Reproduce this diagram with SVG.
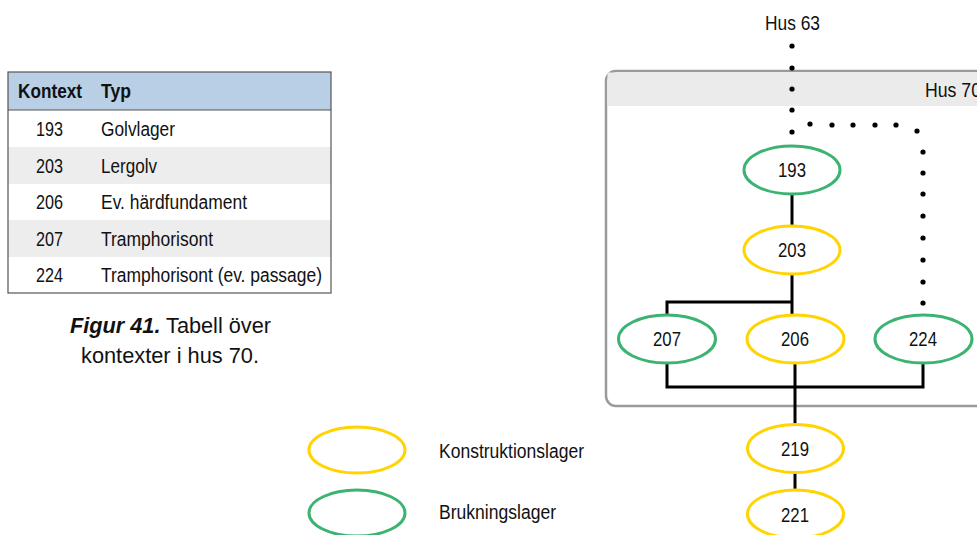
<svg xmlns="http://www.w3.org/2000/svg" width="977" height="535" viewBox="0 0 977 535">
<style>
text{font-family:"Liberation Sans",Arial,sans-serif;fill:#111;}
.t{font-size:20px;}
.b{font-weight:bold;}
.n{font-size:21px;text-anchor:middle;}
.y{fill:none;stroke:#ffd400;stroke-width:3;}
.g{fill:none;stroke:#3cb371;stroke-width:3;}
.c{fill:none;stroke:#000;stroke-width:3;}
.d{fill:#000;}
</style>
<g id="table">
<rect x="8" y="72" width="323" height="38" fill="#b8cfe6"/>
<rect x="8" y="147" width="323" height="37" fill="#ededed"/>
<rect x="8" y="220" width="323" height="37" fill="#ededed"/>
<rect x="8" y="72" width="323" height="221" fill="none" stroke="#555" stroke-width="1.2"/>
<line x1="8" y1="110" x2="331" y2="110" stroke="#555" stroke-width="1.2"/>
<text class="t b" x="18" y="98" textLength="64" lengthAdjust="spacingAndGlyphs">Kontext</text>
<text class="t b" x="101" y="98" textLength="30" lengthAdjust="spacingAndGlyphs">Typ</text>
<g class="nums">
<text class="t" x="49.5" y="136" text-anchor="middle" textLength="27" lengthAdjust="spacingAndGlyphs">193</text>
<text class="t" x="49.5" y="173" text-anchor="middle" textLength="27" lengthAdjust="spacingAndGlyphs">203</text>
<text class="t" x="49.5" y="209" text-anchor="middle" textLength="27" lengthAdjust="spacingAndGlyphs">206</text>
<text class="t" x="49.5" y="246" text-anchor="middle" textLength="27" lengthAdjust="spacingAndGlyphs">207</text>
<text class="t" x="49.5" y="282" text-anchor="middle" textLength="27" lengthAdjust="spacingAndGlyphs">224</text>
</g>
<text class="t" x="101" y="136" textLength="74" lengthAdjust="spacingAndGlyphs">Golvlager</text>
<text class="t" x="101" y="173" textLength="56" lengthAdjust="spacingAndGlyphs">Lergolv</text>
<text class="t" x="101" y="209" textLength="146" lengthAdjust="spacingAndGlyphs">Ev. härdfundament</text>
<text class="t" x="101" y="246" textLength="112" lengthAdjust="spacingAndGlyphs">Tramphorisont</text>
<text class="t" x="101" y="282" textLength="221" lengthAdjust="spacingAndGlyphs">Tramphorisont (ev. passage)</text>
</g>
<g id="caption">
<text x="70" y="333" style="font-size:22px" textLength="201" lengthAdjust="spacingAndGlyphs"><tspan font-weight="bold" font-style="italic">Figur 41.</tspan> Tabell över</text>
<text x="81" y="363" style="font-size:22px" textLength="178" lengthAdjust="spacingAndGlyphs">kontexter i hus 70.</text>
</g>
<g id="hus70">
<rect x="606" y="71" width="390" height="335" rx="10" fill="#fff" stroke="#9a9a9a" stroke-width="2.5"/>
<rect x="607.5" y="72.5" width="380" height="33.5" fill="#ebebeb"/>
<text class="t" x="925" y="97" textLength="56" lengthAdjust="spacingAndGlyphs">Hus 70</text>
</g>
<g id="hus63">
<text class="t" x="792.5" y="30" text-anchor="middle" textLength="55" lengthAdjust="spacingAndGlyphs">Hus 63</text>
</g>
<g id="connectors">
<g class="d">
<circle cx="792" cy="46" r="2.6"/><circle cx="792" cy="68" r="2.6"/><circle cx="792" cy="89" r="2.6"/><circle cx="792" cy="110" r="2.6"/><circle cx="792" cy="132" r="2.6"/>
<circle cx="810" cy="124" r="2.6"/><circle cx="832" cy="125" r="2.6"/><circle cx="853" cy="125" r="2.6"/><circle cx="875" cy="125" r="2.6"/><circle cx="896" cy="125" r="2.6"/><circle cx="917" cy="131" r="2.6"/>
<circle cx="923" cy="152" r="2.6"/><circle cx="923" cy="173" r="2.6"/><circle cx="923" cy="194" r="2.6"/><circle cx="923" cy="216" r="2.6"/><circle cx="923" cy="238" r="2.6"/><circle cx="923" cy="260" r="2.6"/><circle cx="923" cy="282" r="2.6"/><circle cx="923" cy="303" r="2.6"/>
</g>
<line class="c" x1="792" y1="194" x2="792" y2="226"/>
<polyline class="c" points="792,274 792,316"/>
<polyline class="c" points="792,302 667,302 667,315"/>
<polyline class="c" points="667,363 667,387 923,387 923,363"/>
<line class="c" x1="795" y1="363" x2="795" y2="425"/>
<line class="c" x1="795" y1="473" x2="795" y2="490"/>
</g>
<g id="n193"><ellipse class="g" cx="792" cy="170" rx="48" ry="24"/><text class="n" x="792" y="177" textLength="28" lengthAdjust="spacingAndGlyphs">193</text></g>
<g id="n203"><ellipse class="y" cx="792" cy="250" rx="48" ry="24"/><text class="n" x="792" y="257" textLength="28" lengthAdjust="spacingAndGlyphs">203</text></g>
<g id="n207"><ellipse class="g" cx="667" cy="339" rx="48.5" ry="24"/><text class="n" x="667" y="346" textLength="28" lengthAdjust="spacingAndGlyphs">207</text></g>
<g id="n206"><ellipse class="y" cx="795.5" cy="339" rx="48.5" ry="24"/><text class="n" x="795" y="346" textLength="28" lengthAdjust="spacingAndGlyphs">206</text></g>
<g id="n224"><ellipse class="g" cx="923.5" cy="339" rx="48.5" ry="24"/><text class="n" x="923" y="346" textLength="28" lengthAdjust="spacingAndGlyphs">224</text></g>
<g id="n219"><ellipse class="y" cx="795.5" cy="448.5" rx="48" ry="24"/><text class="n" x="795" y="456" textLength="28" lengthAdjust="spacingAndGlyphs">219</text></g>
<g id="n221"><ellipse class="y" cx="795.5" cy="514" rx="48" ry="24"/><text class="n" x="795" y="522" textLength="28" lengthAdjust="spacingAndGlyphs">221</text></g>
<g id="legend">
<ellipse class="y" cx="357" cy="450" rx="48" ry="23"/>
<text class="t" x="439" y="458" textLength="145" lengthAdjust="spacingAndGlyphs">Konstruktionslager</text>
<ellipse class="g" cx="357" cy="513" rx="48" ry="23"/>
<text class="t" x="439" y="519" textLength="117" lengthAdjust="spacingAndGlyphs">Brukningslager</text>
</g>
</svg>
